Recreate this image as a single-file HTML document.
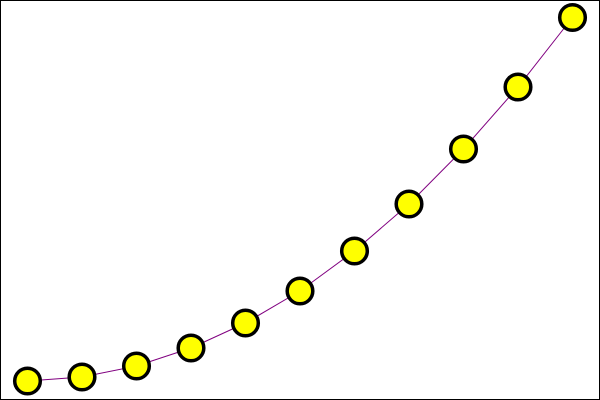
<!DOCTYPE html>
<html>
<head>
<meta charset="utf-8">
<style>
  html, body { margin: 0; padding: 0; background: #fff; }
  #chart { display: block; width: 600px; height: 400px; }
</style>
</head>
<body>
<svg id="chart" width="600" height="400" xmlns="http://www.w3.org/2000/svg">
  <rect x="0.5" y="0.5" width="599" height="399" fill="#fff" stroke="#000" stroke-width="1"/>
  <g id="marks"></g>
</svg>
<script>
const categories = [0, 1, 2, 3, 4, 5, 6, 7, 8, 9, 10];
const values = [19, 23, 34, 52, 77, 109, 149, 196, 251, 313, 382.5];

function xScale(c) { return 27.5 + c * 54.5; }
function yScale(v) { return 400 - v; }

const ns = 'http://www.w3.org/2000/svg';
const g = document.getElementById('marks');

const line = document.createElementNS(ns, 'polyline');


line.setAttribute('points', categories.map((c, i) => xScale(c) + ',' + yScale(values[i])).join(' '));
line.setAttribute('fill', 'none');
line.setAttribute('stroke', 'purple');
line.setAttribute('stroke-width', '1');
g.appendChild(line);

categories.forEach((c, i) => {
  const pt = document.createElementNS(ns, 'circle');
  
  
  pt.setAttribute('cx', xScale(c));
  pt.setAttribute('cy', yScale(values[i]));
  pt.setAttribute('r', '12.8');
  pt.setAttribute('fill', '#ffff00');
  pt.setAttribute('stroke', '#000');
  pt.setAttribute('stroke-width', '3.5');
  g.appendChild(pt);
});
</script>
</body>
</html>
